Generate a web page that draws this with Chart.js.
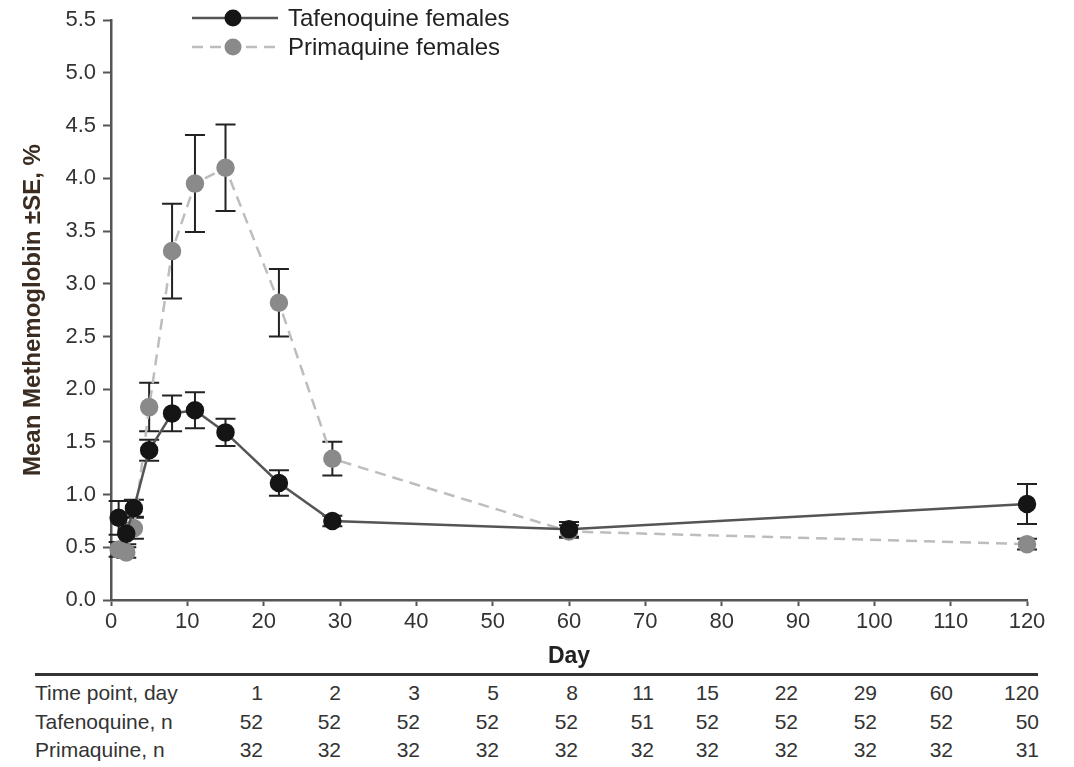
<!DOCTYPE html>
<html>
<head>
<meta charset="utf-8">
<script src="https://cdn.jsdelivr.net/npm/chart.js@4.4.1/dist/chart.umd.min.js"></script>
<style>
  body { margin: 0; background: #fff; font-family: "Liberation Sans", Arial, sans-serif; }
  #wrap { position: relative; width: 1074px; height: 767px; }
  #chartBox { position: absolute; left: 0; top: 0; width: 1074px; height: 672px; }
  #rule { position: absolute; left: 35px; top: 673px; width: 1003px; height: 3px; background: #333; }
  .cell { position: absolute; font-size: 21px; line-height: 24px; color: #333; white-space: nowrap; }
  .num { text-align: right; width: 60px; }
</style>
</head>
<body>
<div id="wrap">
  <div id="chartBox"><canvas id="metChart"></canvas></div>
  <div id="rule"></div>
  <div id="table"></div>
</div>
<script>
// time points (day) and sample sizes
const days = [1, 2, 3, 5, 8, 11, 15, 22, 29, 60, 120];
const tafenoquineN = [52, 52, 52, 52, 52, 51, 52, 52, 52, 52, 50];
const primaquineN = [32, 32, 32, 32, 32, 32, 32, 32, 32, 32, 31];

// mean methemoglobin and SE
const tafenoquineMean = [0.78, 0.63, 0.87, 1.42, 1.77, 1.80, 1.59, 1.11, 0.75, 0.67, 0.91];
const tafenoquineSE   = [0.16, 0.10, 0.08, 0.10, 0.17, 0.17, 0.13, 0.12, 0.05, 0.07, 0.19];
const primaquineMean  = [0.48, 0.45, 0.68, 1.83, 3.31, 3.95, 4.10, 2.82, 1.34, 0.65, 0.53];
const primaquineSE    = [0.07, 0.05, 0.10, 0.23, 0.45, 0.46, 0.41, 0.32, 0.16, 0.06, 0.05];

const yTicks = [0, 0.5, 1.0, 1.5, 2.0, 2.5, 3.0, 3.5, 4.0, 4.5, 5.0, 5.5];

const toPoints = (means) => days.map((d, i) => ({ x: d, y: means[i] }));

// error bars drawn through the chart's scales
const errorBars = {
    id: 'errorBars',
    beforeDatasetsDraw(chart) {
        const { ctx, scales: { x, y } } = chart;
        ctx.save();
        ctx.strokeStyle = '#222';
        ctx.lineWidth = 2;
        chart.data.datasets.forEach((ds) => {
            ds.data.forEach((p, i) => {
                const px = x.getPixelForValue(p.x);
                const top = y.getPixelForValue(p.y + ds.se[i]);
                const bot = y.getPixelForValue(p.y - ds.se[i]);
                ctx.beginPath();
                ctx.moveTo(px, top); ctx.lineTo(px, bot);
                ctx.moveTo(px - 10, top); ctx.lineTo(px + 10, top);
                ctx.moveTo(px - 10, bot); ctx.lineTo(px + 10, bot);
                ctx.stroke();
            });
        });
        ctx.restore();
    }
};

// legend in the top left corner
const cornerLegend = {
    id: 'cornerLegend',
    afterDraw(chart) {
        const { ctx } = chart;
        ctx.save();
        chart.data.datasets.forEach((ds, i) => {
            const yy = 18 + i * 29;
            ctx.strokeStyle = ds.borderColor;
            ctx.lineWidth = ds.borderWidth;
            ctx.setLineDash(ds.borderDash || []);
            ctx.beginPath();
            ctx.moveTo(192, yy); ctx.lineTo(278, yy);
            ctx.stroke();
            ctx.setLineDash([]);
            ctx.fillStyle = ds.pointBackgroundColor;
            ctx.beginPath();
            ctx.arc(233, yy, 8.5, 0, Math.PI * 2);
            ctx.fill();
            ctx.fillStyle = '#222';
            ctx.font = '24px "Liberation Sans", Arial, sans-serif';
            ctx.textBaseline = 'middle';
            ctx.fillText(ds.label, 288, yy + 1);
        });
        ctx.restore();
    }
};

const ctx = document.getElementById('metChart').getContext('2d');
const metChart = new Chart(ctx, {
    type: 'line',
    data: {
        datasets: [{
            label: 'Tafenoquine females',
            data: toPoints(tafenoquineMean),
            se: tafenoquineSE,
            borderColor: '#555',
            borderWidth: 2.5,
            pointBackgroundColor: '#151515',
            pointBorderColor: '#151515',
            pointRadius: 8,
            tension: 0,
            clip: false
        }, {
            label: 'Primaquine females',
            data: toPoints(primaquineMean),
            se: primaquineSE,
            borderColor: '#bdbdbd',
            borderWidth: 2.5,
            borderDash: [11, 7],
            pointBackgroundColor: '#8a8a8a',
            pointBorderColor: '#8a8a8a',
            pointRadius: 8,
            tension: 0,
            clip: false
        }]
    },
    options: {
        responsive: true,
        maintainAspectRatio: false,
        animation: false,
        layout: { padding: { top: 18, right: 47, left: 0, bottom: 0 } },
        plugins: {
            legend: { display: false },
            tooltip: { enabled: false }
        },
        scales: {
            x: {
                type: 'linear',
                min: 0,
                max: 120,
                ticks: { stepSize: 10, color: '#333', padding: 3, font: { size: 22, family: '"Liberation Sans", Arial' } },
                grid: { drawOnChartArea: false, tickLength: 6, tickColor: '#555', tickWidth: 2 },
                border: { color: '#555', width: 2.5 },
                title: { display: true, text: 'Day', color: '#222', padding: { bottom: 2 }, font: { size: 23, weight: 'bold', family: '"Liberation Sans", Arial' } },
                afterFit: (s) => { s.height = 72; }
            },
            y: {
                min: 0,
                max: 5.5,
                afterBuildTicks: (s) => { s.ticks = yTicks.map(v => ({ value: v })); },
                ticks: { color: '#333', padding: 7, callback: (v) => v.toFixed(1), font: { size: 22, family: '"Liberation Sans", Arial' } },
                grid: { drawOnChartArea: false, tickLength: 8, tickColor: '#555', tickWidth: 2 },
                border: { color: '#555', width: 2.5 },
                title: { display: true, text: 'Mean Methemoglobin \u00b1SE, %', color: '#3a2c20', padding: { top: 19 }, font: { size: 24, weight: 'bold', family: '"Liberation Sans", Arial' } },
                afterFit: (s) => { s.width = 111; }
            }
        }
    },
    plugins: [errorBars, cornerLegend]
});

// table of sample sizes under the chart
const colRight = [263, 341, 420, 499, 578, 654, 719, 798, 877, 953, 1039];
const rows = [
    ['Time point, day', days, 693],
    ['Tafenoquine, n', tafenoquineN, 722],
    ['Primaquine, n', primaquineN, 750]
];
const table = document.getElementById('table');
rows.forEach(([label, vals, cy]) => {
    const l = document.createElement('div');
    l.className = 'cell';
    l.style.left = '35px';
    l.style.top = (cy - 12) + 'px';
    l.textContent = label;
    table.appendChild(l);
    vals.forEach((v, i) => {
        const c = document.createElement('div');
        c.className = 'cell num';
        c.style.left = (colRight[i] - 60) + 'px';
        c.style.top = (cy - 12) + 'px';
        c.textContent = v;
        table.appendChild(c);
    });
});
</script>
</body>
</html>
